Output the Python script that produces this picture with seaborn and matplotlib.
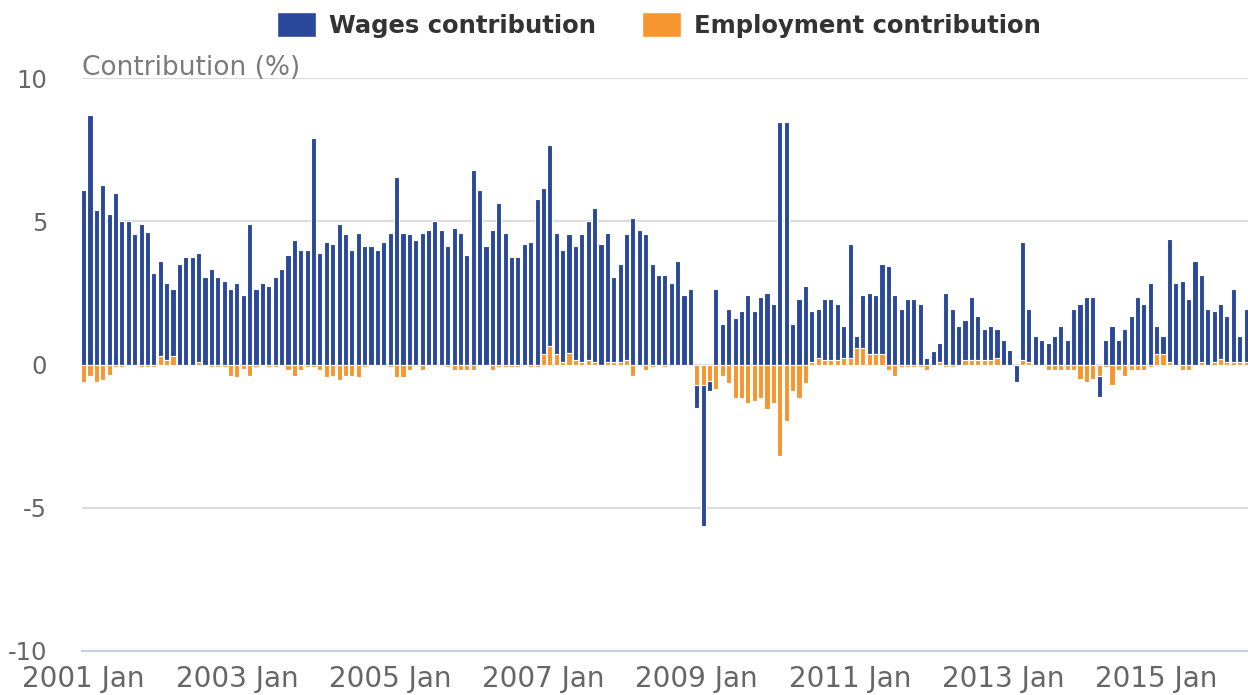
"""Wages vs employment contribution — monthly stacked bar chart."""
import matplotlib
matplotlib.use("Agg")
import matplotlib.pyplot as plt
from matplotlib.patches import Patch
import numpy as np
import pandas as pd
import seaborn as sns

BLUE = "#2a4899"
ORANGE = "#f7962f"

# monthly values, Jan 2001 .. Mar 2016 (percentage points)
wages = [
    # 2001
    6.1, 8.7, 5.4, 6.25, 5.24, 6.0, 5.0, 5.0, 4.54, 4.92, 4.62, 3.2,
    # 2002
    3.31, 2.7, 2.37, 3.52, 3.75, 3.75, 3.8, 3.05, 3.35, 3.05, 2.9, 2.65,
    # 2003
    2.83, 2.42, 4.92, 2.65, 2.83, 2.73, 3.05, 3.35, 3.83, 4.36, 3.98, 3.98,
    # 2004
    7.89, 3.9, 4.29, 4.2, 4.92, 4.54, 3.98, 4.6, 4.13, 4.13, 3.98, 4.29,
    # 2005
    4.6, 6.56, 4.6, 4.54, 4.36, 4.6, 4.69, 5.0, 4.69, 4.13, 4.78, 4.6,
    # 2006
    3.83, 6.8, 6.1, 4.15, 4.69, 5.63, 4.6, 3.75, 3.75, 4.2, 4.29, 5.78,
    # 2007
    5.79, 7.04, 4.22, 3.9, 4.14, 4.01, 4.46, 4.86, 5.39, 4.2, 4.5, 2.95,
    # 2008
    3.42, 4.4, 5.1, 4.69, 4.54, 3.52, 3.12, 3.12, 2.83, 3.6, 2.42, 2.65,
    # 2009
    -0.8, -4.9, -0.35, 2.65, 1.4, 1.95, 1.63, 1.86, 2.42, 1.86, 2.34, 2.5,
    # 2010
    2.1, 8.45, 8.45, 1.4, 2.27, 2.73, 1.79, 1.71, 2.1, 2.1, 1.93, 1.09,
    # 2011
    3.96, 0.42, 1.83, 2.12, 2.04, 3.14, 3.43, 2.42, 1.95, 2.27, 2.27, 2.1,
    # 2012
    0.24, 0.47, 0.66, 2.5, 1.95, 1.33, 1.38, 2.17, 1.54, 1.08, 1.16, 1.01,
    # 2013
    0.85, 0.5, -0.6, 4.14, 1.85, 1.0, 0.85, 0.76, 1.0, 1.33, 0.85, 1.95,
    # 2014
    2.1, 2.34, 2.34, -0.75, 0.85, 1.33, 0.85, 1.25, 1.71, 2.34, 2.1, 2.83,
    # 2015
    0.95, 0.62, 4.28, 2.83, 2.9, 2.27, 3.6, 3.02, 1.95, 1.76, 1.9, 1.61,
    # 2016
    2.55, 0.9, 1.85,
]

employment = [
    # 2001
    -0.6, -0.4, -0.6, -0.55, -0.35, -0.1, -0.1, 0.0, 0.0, -0.1, -0.1, -0.1,
    # 2002
    0.29, 0.15, 0.28, 0.0, 0.0, 0.0, 0.1, 0.0, -0.1, -0.1, -0.1, -0.4,
    # 2003
    -0.45, -0.15, -0.4, -0.1, 0.0, -0.1, -0.1, 0.0, -0.2, -0.4, -0.2, -0.1,
    # 2004
    -0.1, -0.2, -0.45, -0.4, -0.55, -0.4, -0.4, -0.45, -0.1, 0.0, 0.0, 0.0,
    # 2005
    -0.1, -0.45, -0.45, -0.2, 0.0, -0.2, 0.0, 0.0, 0.0, -0.1, -0.2, -0.2,
    # 2006
    -0.2, -0.2, 0.0, 0.0, -0.2, -0.1, -0.1, -0.1, -0.1, 0.0, -0.1, -0.1,
    # 2007
    0.38, 0.63, 0.38, 0.08, 0.4, 0.14, 0.08, 0.14, 0.08, 0.0, 0.1, 0.1,
    # 2008
    0.1, 0.14, -0.4, 0.0, -0.2, -0.1, 0.0, -0.1, 0.0, 0.0, 0.0, 0.0,
    # 2009
    -0.72, -0.72, -0.56, -0.87, -0.4, -0.63, -1.18, -1.18, -1.33, -1.26, -1.18, -1.57,
    # 2010
    -1.33, -3.2, -1.96, -0.94, -1.18, -0.63, 0.07, 0.24, 0.17, 0.17, 0.17, 0.24,
    # 2011
    0.24, 0.59, 0.59, 0.38, 0.38, 0.38, -0.2, -0.4, -0.1, -0.1, -0.1, -0.1,
    # 2012
    -0.2, 0.0, 0.1, -0.1, -0.1, 0.0, 0.17, 0.17, 0.17, 0.17, 0.17, 0.24,
    # 2013
    0.0, 0.0, 0.0, 0.15, 0.1, 0.0, 0.0, -0.2, -0.2, -0.2, -0.2, -0.2,
    # 2014
    -0.5, -0.6, -0.5, -0.4, -0.1, -0.72, -0.2, -0.4, -0.2, -0.2, -0.2, -0.1,
    # 2015
    0.38, 0.38, 0.1, 0.0, -0.2, -0.2, 0.0, 0.1, 0.0, 0.1, 0.2, 0.1,
    # 2016
    0.1, 0.1, 0.1,
]

months = pd.date_range("2001-01-01", periods=len(wages), freq="MS")
month_labels = months.strftime("%Y %b")
tick_years = list(range(2001, 2016, 2))
y_ticks = [10, 5, 0, -5, -10]

w = np.array(wages)
e = np.array(employment)
# stacked (diverging): wages sits on top of employment when both share a sign
wages_top = np.where(np.sign(w) == np.sign(e), w + e, w)

df = pd.DataFrame({"month": month_labels, "wages_top": wages_top, "employment": e})

sns.set_style("white")
plt.rcParams["font.family"] = ["DejaVu Sans"]

fig = plt.figure(figsize=(12.48, 6.95), dpi=100)
ax = fig.add_axes([82 / 1248, 1 - 651 / 695, 1 - 82 / 1248, (651 - 78) / 695])

for y in y_ticks[:-1]:
    ax.axhline(y, color="#dcdcdc", lw=1.6, zorder=0)

sns.barplot(data=df, x="month", y="wages_top", order=list(month_labels),
            color=BLUE, saturation=1, width=0.8, errorbar=None,
            edgecolor="white", linewidth=0.8, ax=ax, zorder=2)
sns.barplot(data=df, x="month", y="employment", order=list(month_labels),
            color=ORANGE, saturation=1, width=0.8, errorbar=None,
            edgecolor="white", linewidth=0.8, ax=ax, zorder=3)

ax.set_ylim(-10, 10)
ax.set_xlim(-0.25, len(wages) - 0.7)
ax.set_yticks(y_ticks)
ax.set_yticklabels([str(v) for v in y_ticks])
tick_pos = [months.get_loc(pd.Timestamp(f"{yr}-01-01")) for yr in tick_years]
ax.set_xticks(tick_pos)
ax.set_xticklabels([f"{yr} Jan" for yr in tick_years])
ax.set_xlabel("")
ax.set_ylabel("")

for side in ("top", "right", "left"):
    ax.spines[side].set_visible(False)
ax.spines["bottom"].set_color("#c4cfe4")
ax.spines["bottom"].set_linewidth(1.5)
ax.spines["bottom"].set_position(("data", -10))
ax.tick_params(axis="y", length=0, pad=25, labelsize=17.5, labelcolor="#666666")
ax.tick_params(axis="x", length=7, width=1.5, color="#c4cfe4", pad=3,
               labelsize=20, labelcolor="#666666")

fig.text(82 / 1248, 1 - 68 / 695, "Contribution (%)", ha="left", va="center",
         fontsize=19, color="#7a7a7a")

handles = [Patch(facecolor=BLUE, label="Wages contribution"),
           Patch(facecolor=ORANGE, label="Employment contribution")]
fig.legend(handles=handles, loc="center", bbox_to_anchor=(0.528, 1 - 25 / 695),
           ncol=2, frameon=False, handlelength=1.6, handleheight=1.2,
           handletextpad=0.55, columnspacing=1.9,
           prop={"weight": "bold", "size": 17.5}, labelcolor="#333333")

fig.savefig("out.png", dpi=100)
